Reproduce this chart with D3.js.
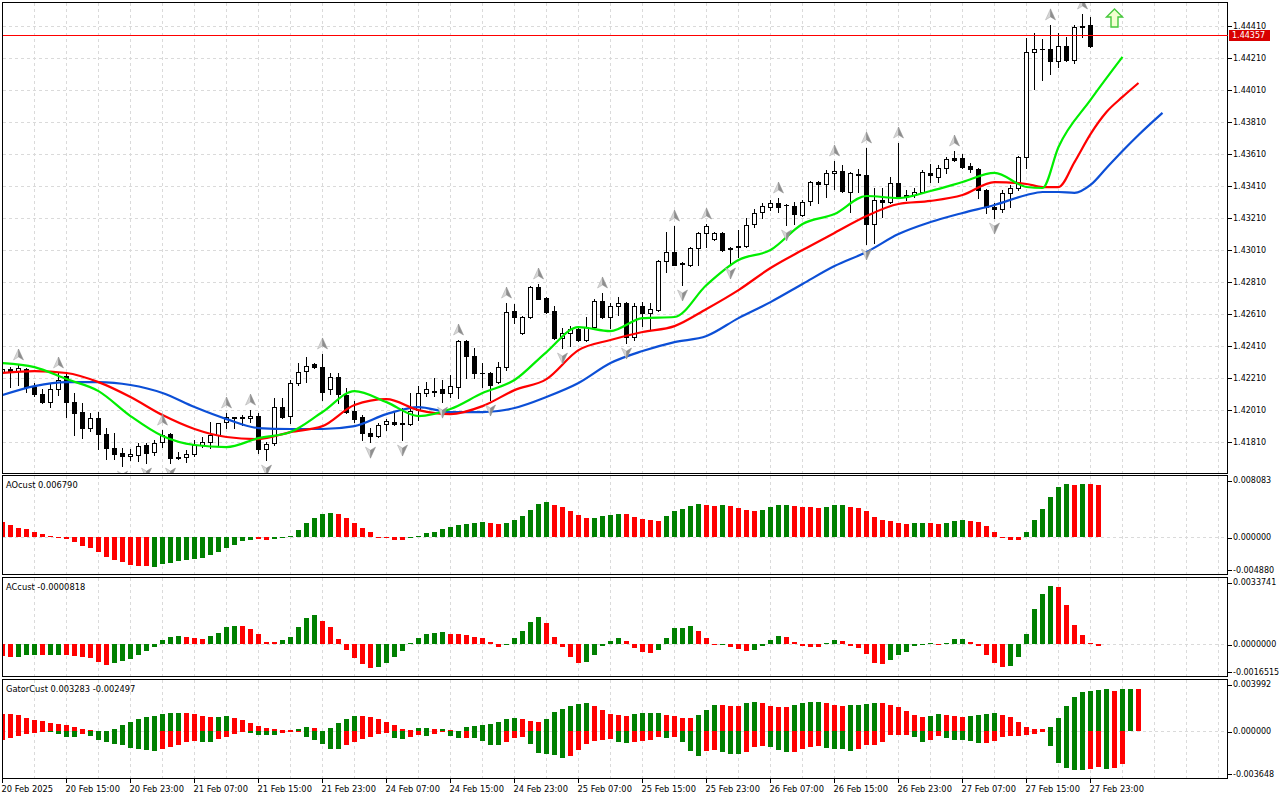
<!DOCTYPE html>
<html lang="en">
<head>
<meta charset="UTF-8">
<title>H1 chart - Alligator, AO, AC, Gator</title>
<script src="https://d3js.org/d3.v7.min.js"></script>
<style>
  body { margin: 0; background: #fff; }
  svg { display: block; }
  text { font-family: 'DejaVu Sans', sans-serif; font-size: 8px; fill: #000; }
  .time-label { font-size: 8.3px; }
  .panel-title { font-size: 8.3px; }
</style>
</head>
<body>
<div id="chart"></div>
<script>
  const timeLabels = ["20 Feb 2025", "20 Feb 15:00", "20 Feb 23:00", "21 Feb 07:00", "21 Feb 15:00", "21 Feb 23:00",
    "24 Feb 07:00", "24 Feb 15:00", "24 Feb 23:00", "25 Feb 07:00", "25 Feb 15:00", "25 Feb 23:00",
    "26 Feb 07:00", "26 Feb 15:00", "26 Feb 23:00", "27 Feb 07:00", "27 Feb 15:00", "27 Feb 23:00"];

  const priceTicks = [1.41810, 1.42010, 1.42210, 1.42410, 1.42610, 1.42810, 1.43010,
    1.43210, 1.43410, 1.43610, 1.43810, 1.44010, 1.44210, 1.44410];

  const lastPrice = 1.44357;

  const opens = [
    1.42248, 1.42267, 1.42254, 1.42267, 1.42154, 1.42110, 1.42060, 1.42142, 1.42223, 1.42060,
    1.41998, 1.41898, 1.41960, 1.41860, 1.41773, 1.41742, 1.41723, 1.41729, 1.41792, 1.41748,
    1.41810, 1.41860, 1.41717, 1.41717, 1.41735, 1.41792, 1.41810, 1.41854, 1.41935, 1.41960,
    1.41967, 1.41960, 1.41973, 1.41767, 1.41804, 1.42029, 1.41973, 1.42179, 1.42254, 1.42298,
    1.42279, 1.42142, 1.42217, 1.42104, 1.42004, 1.41967, 1.41867, 1.41848, 1.41923, 1.41935,
    1.41926, 1.41923, 1.42010, 1.42117, 1.42126, 1.42142, 1.42117, 1.42154, 1.42442, 1.42348,
    1.42239, 1.42242, 1.42185, 1.42279, 1.42629, 1.42492, 1.42592, 1.42779, 1.42710, 1.42629,
    1.42461, 1.42492, 1.42517, 1.42448, 1.42529, 1.42692, 1.42592, 1.42661, 1.42679, 1.42467,
    1.42661, 1.42617, 1.42636, 1.42942, 1.42998, 1.42929, 1.42917, 1.43023, 1.43117, 1.43079,
    1.43117, 1.43017, 1.43032, 1.43035, 1.43173, 1.43248, 1.43279, 1.43304, 1.43289, 1.43285,
    1.43229, 1.43317, 1.43435, 1.43423, 1.43492, 1.43504, 1.43373, 1.43485, 1.43479, 1.43173,
    1.43323, 1.43310, 1.43429, 1.43351, 1.43354, 1.43373, 1.43492, 1.43467, 1.43523, 1.43585,
    1.43585, 1.43535, 1.43517, 1.43385, 1.43279, 1.43267, 1.43367, 1.43398, 1.43592, 1.44248,
    1.44264, 1.44267, 1.44192, 1.44285, 1.44198, 1.44410, 1.44417, 1.44357];

  const highs = [
    1.42286, 1.42279, 1.42292, 1.42273, 1.42179, 1.42142, 1.42179, 1.42242, 1.42235, 1.42117,
    1.42054, 1.41992, 1.41998, 1.41898, 1.41867, 1.41773, 1.41767, 1.41804, 1.41804, 1.41823,
    1.41885, 1.41867, 1.41748, 1.41760, 1.41823, 1.41842, 1.41937, 1.41929, 1.41992, 1.41970,
    1.41979, 1.42010, 1.41992, 1.41810, 1.42085, 1.42085, 1.42198, 1.42304, 1.42342, 1.42304,
    1.42361, 1.42242, 1.42242, 1.42148, 1.42067, 1.41979, 1.41898, 1.41929, 1.41954, 1.41998,
    1.42023, 1.42117, 1.42161, 1.42185, 1.42210, 1.42198, 1.42229, 1.42448, 1.42448, 1.42398,
    1.42304, 1.42248, 1.42311, 1.42679, 1.42673, 1.42598, 1.42785, 1.42798, 1.42717, 1.42661,
    1.42523, 1.42536, 1.42523, 1.42592, 1.42704, 1.42742, 1.42679, 1.42717, 1.42686, 1.42679,
    1.42686, 1.42679, 1.42948, 1.43123, 1.43160, 1.42936, 1.43029, 1.43120, 1.43173, 1.43123,
    1.43123, 1.43029, 1.43135, 1.43210, 1.43267, 1.43304, 1.43323, 1.43335, 1.43298, 1.43310,
    1.43323, 1.43442, 1.43442, 1.43510, 1.43567, 1.43542, 1.43498, 1.43517, 1.43648, 1.43398,
    1.43398, 1.43467, 1.43679, 1.43385, 1.43398, 1.43510, 1.43548, 1.43542, 1.43592, 1.43629,
    1.43610, 1.43554, 1.43523, 1.43392, 1.43304, 1.43385, 1.43417, 1.43598, 1.44335, 1.44367,
    1.44329, 1.44417, 1.44367, 1.44342, 1.44417, 1.44485, 1.44467, 1.44357];

  const lows = [
    1.42210, 1.42154, 1.42167, 1.42123, 1.42098, 1.42054, 1.42029, 1.42104, 1.41967, 1.41854,
    1.41835, 1.41879, 1.41767, 1.41704, 1.41704, 1.41660, 1.41698, 1.41692, 1.41679, 1.41729,
    1.41779, 1.41679, 1.41704, 1.41685, 1.41723, 1.41779, 1.41773, 1.41792, 1.41898, 1.41898,
    1.41917, 1.41935, 1.41742, 1.41698, 1.41792, 1.41960, 1.41929, 1.42167, 1.42185, 1.42273,
    1.42073, 1.42110, 1.42054, 1.41992, 1.41935, 1.41823, 1.41810, 1.41842, 1.41885, 1.41917,
    1.41823, 1.41917, 1.41948, 1.42098, 1.42098, 1.42060, 1.42092, 1.42085, 1.42210, 1.42210,
    1.42154, 1.42073, 1.42179, 1.42260, 1.42554, 1.42486, 1.42586, 1.42704, 1.42617, 1.42454,
    1.42398, 1.42411, 1.42442, 1.42442, 1.42523, 1.42586, 1.42523, 1.42604, 1.42429, 1.42448,
    1.42536, 1.42517, 1.42629, 1.42873, 1.42917, 1.42792, 1.42911, 1.42917, 1.43029, 1.43073,
    1.43004, 1.42929, 1.42967, 1.43029, 1.43154, 1.43210, 1.43260, 1.43248, 1.43167, 1.43173,
    1.43223, 1.43292, 1.43304, 1.43342, 1.43392, 1.43373, 1.43248, 1.43373, 1.43048, 1.43054,
    1.43217, 1.43304, 1.43342, 1.43323, 1.43342, 1.43367, 1.43435, 1.43435, 1.43492, 1.43567,
    1.43523, 1.43498, 1.43335, 1.43242, 1.43210, 1.43248, 1.43279, 1.43385, 1.43523, 1.44017,
    1.44073, 1.44110, 1.44154, 1.44192, 1.44179, 1.44342, 1.44279, 1.44357];

  const closes = [
    1.42267, 1.42254, 1.42273, 1.42154, 1.42110, 1.42060, 1.42142, 1.42198, 1.42060, 1.41992,
    1.41898, 1.41960, 1.41860, 1.41773, 1.41735, 1.41723, 1.41735, 1.41785, 1.41742, 1.41804,
    1.41854, 1.41710, 1.41710, 1.41735, 1.41792, 1.41810, 1.41854, 1.41929, 1.41967, 1.41967,
    1.41960, 1.41973, 1.41767, 1.41798, 1.42029, 1.41967, 1.42179, 1.42248, 1.42286, 1.42279,
    1.42123, 1.42217, 1.42110, 1.41998, 1.41954, 1.41867, 1.41848, 1.41917, 1.41942, 1.41923,
    1.41929, 1.42004, 1.42117, 1.42142, 1.42129, 1.42117, 1.42161, 1.42442, 1.42348, 1.42242,
    1.42242, 1.42167, 1.42279, 1.42623, 1.42592, 1.42592, 1.42779, 1.42704, 1.42623, 1.42461,
    1.42492, 1.42517, 1.42448, 1.42529, 1.42692, 1.42592, 1.42661, 1.42679, 1.42467, 1.42661,
    1.42617, 1.42642, 1.42942, 1.42998, 1.42917, 1.42923, 1.43023, 1.43117, 1.43160, 1.43117,
    1.43010, 1.43023, 1.43035, 1.43167, 1.43242, 1.43285, 1.43304, 1.43279, 1.43292, 1.43235,
    1.43310, 1.43435, 1.43423, 1.43492, 1.43504, 1.43379, 1.43492, 1.43479, 1.43173, 1.43323,
    1.43310, 1.43429, 1.43342, 1.43354, 1.43373, 1.43498, 1.43479, 1.43523, 1.43579, 1.43573,
    1.43529, 1.43517, 1.43385, 1.43279, 1.43267, 1.43367, 1.43398, 1.43592, 1.44248, 1.44267,
    1.44267, 1.44192, 1.44285, 1.44198, 1.44404, 1.44404, 1.44285, 1.44357];

  const upFractals = [2, 7, 20, 28, 31, 40, 57, 63, 67, 75, 84, 88, 97, 104, 108, 112, 119, 131, 135];
  const downFractals = [15, 18, 21, 33, 46, 50, 55, 61, 70, 78, 85, 91, 98, 108, 124];

  // alligator lines, read every few bars (the shifted lines run past the last candle)
  const jawBars = [0, 4, 8, 12, 16, 20, 24, 28, 32, 36, 40, 44, 48, 52, 56, 60, 64, 68, 72, 76, 80, 84, 88, 92,
    96, 100, 104, 108, 112, 116, 120, 124, 128, 130, 132, 134, 136, 138, 140, 142, 145];
  const jawValues = [1.42104, 1.42160, 1.42185, 1.42185, 1.42167, 1.42117, 1.42029, 1.41954, 1.41898, 1.41892,
    1.41892, 1.41910, 1.41985, 1.42029, 1.41998, 1.41998, 1.42023, 1.42092, 1.42179, 1.42304,
    1.42379, 1.42435, 1.42473, 1.42585, 1.42685, 1.42798, 1.42910, 1.42998, 1.43110, 1.43185,
    1.43242, 1.43292, 1.43354, 1.43373, 1.43373, 1.43367, 1.43417, 1.43523, 1.43629, 1.43729, 1.43867];

  const teethBars = [0, 4, 8, 12, 16, 20, 24, 28, 32, 36, 40, 44, 48, 52, 56, 60, 64, 68, 72, 76, 80, 84, 88, 92,
    96, 100, 104, 108, 112, 116, 120, 124, 128, 130, 132, 134, 136, 138, 140, 142];
  const teethValues = [1.42242, 1.42254, 1.42242, 1.42185, 1.42092, 1.41979, 1.41892, 1.41842, 1.41829, 1.41873,
    1.41910, 1.42042, 1.42079, 1.42010, 1.41985, 1.42035, 1.42135, 1.42204, 1.42385, 1.42448,
    1.42498, 1.42535, 1.42642, 1.42760, 1.42898, 1.43010, 1.43117, 1.43223, 1.43298, 1.43317,
    1.43354, 1.43435, 1.43423, 1.43404, 1.43404, 1.43560, 1.43735, 1.43873, 1.43967, 1.44054];

  const lipsBars = [0, 4, 8, 12, 16, 20, 24, 28, 32, 36, 40, 44, 48, 52, 56, 60, 64, 68, 72, 76, 80, 84, 88, 92,
    96, 100, 104, 108, 112, 116, 120, 124, 128, 130, 132, 136, 140];
  const lipsValues = [1.42304, 1.42279, 1.42204, 1.42129, 1.41973, 1.41848, 1.41792, 1.41779, 1.41835, 1.41873,
    1.41998, 1.42129, 1.42060, 1.41973, 1.42017, 1.42117, 1.42198, 1.42373, 1.42529, 1.42504,
    1.42585, 1.42592, 1.42792, 1.42948, 1.43010, 1.43173, 1.43235, 1.43348, 1.43335, 1.43379,
    1.43435, 1.43492, 1.43404, 1.43398, 1.43654, 1.43948, 1.44217];

  const aoValues = [
    0.00198, 0.00154, 0.00123, 0.00102, 0.00075, 0.00036, 0.00013, 0.00004, -0.00022, -0.00066,
    -0.00109, -0.00145, -0.00198, -0.00264, -0.00294, -0.00330, -0.00365, -0.00383, -0.00383, -0.00386,
    -0.00352, -0.00339, -0.00317, -0.00299, -0.00286, -0.00277, -0.00233, -0.00198, -0.00145, -0.00096,
    -0.00053, -0.00030, -0.00022, -0.00030, -0.00022, -0.00009, 0.00022, 0.00096, 0.00189, 0.00255,
    0.00299, 0.00321, 0.00299, 0.00255, 0.00189, 0.00123, 0.00062, 0.00009, 0.00004, -0.00036,
    -0.00036, 0.00004, 0.00013, 0.00049, 0.00075, 0.00102, 0.00132, 0.00154, 0.00168, 0.00181,
    0.00194, 0.00181, 0.00168, 0.00181, 0.00224, 0.00273, 0.00356, 0.00431, 0.00458, 0.00418,
    0.00392, 0.00339, 0.00286, 0.00247, 0.00248, 0.00273, 0.00286, 0.00299, 0.00298, 0.00260,
    0.00233, 0.00220, 0.00207, 0.00273, 0.00339, 0.00365, 0.00405, 0.00431, 0.00418, 0.00405,
    0.00418, 0.00405, 0.00379, 0.00352, 0.00350, 0.00352, 0.00392, 0.00418, 0.00419, 0.00405,
    0.00392, 0.00390, 0.00379, 0.00392, 0.00418, 0.00419, 0.00392, 0.00379, 0.00339, 0.00260,
    0.00220, 0.00207, 0.00181, 0.00168, 0.00181, 0.00182, 0.00180, 0.00168, 0.00181, 0.00207,
    0.00220, 0.00207, 0.00194, 0.00141, 0.00062, 0.00009, -0.00036, -0.00037, 0.00062, 0.00220,
    0.00365, 0.00524, 0.00656, 0.00695, 0.00682, 0.00695, 0.00694, 0.00679];
  const aoColors = ("rrrrrrrrrr" + "rrrrrrrrrg" + "gggggggggg" + "ggrrgggggg" + "ggrrrrrrrr" +
    "rggggggggg" + "grrggggggr" + "rrrrggggrr" + "rrrgggggrr" + "grrrrggggr" +
    "rrrgggrrrr" + "rrrrggrrgg" + "grrrrrrrgg" + "ggggrgrr").split("");

  const acValues = [
    -0.000613, -0.000649, -0.000640, -0.000562, -0.000560, -0.000565, -0.000560, -0.000558, -0.000562, -0.000613,
    -0.000649, -0.000700, -0.000904, -0.001073, -0.000956, -0.000869, -0.000751, -0.000562, -0.000358, -0.000138,
    0.000204, 0.000373, 0.000409, 0.000342, 0.000322, 0.000256, 0.000424, 0.000577, 0.000884, 0.000935,
    0.000920, 0.000751, 0.000511, 0.000118, 0.000110, 0.000204, 0.000373, 0.000884, 0.001313, 0.001446,
    0.001191, 0.000884, 0.000256, -0.000307, -0.000731, -0.001037, -0.001211, -0.001191, -0.000956, -0.000649,
    -0.000342, 0.000036, 0.000291, 0.000511, 0.000562, 0.000629, 0.000511, 0.000505, 0.000460, 0.000358,
    0.000307, 0.000102, -0.000138, -0.000036, 0.000307, 0.000664, 0.001124, 0.001380, 0.001073, 0.000358,
    -0.000138, -0.000649, -0.000956, -0.000904, -0.000547, -0.000087, 0.000153, 0.000307, 0.000153, -0.000189,
    -0.000393, -0.000445, -0.000291, 0.000307, 0.000818, 0.000833, 0.000920, 0.000664, 0.000307, -0.000036,
    -0.000026, -0.000138, -0.000240, -0.000342, -0.000291, -0.000087, 0.000204, 0.000409, 0.000358, 0.000102,
    -0.000087, -0.000138, -0.000143, 0.000051, 0.000204, 0.000153, -0.000087, -0.000189, -0.000496, -0.000956,
    -0.001007, -0.000802, -0.000547, -0.000393, -0.000087, 0.000015, 0.000036, -0.000051, 0.000051, 0.000256,
    0.000266, 0.000102, -0.000102, -0.000562, -0.000986, -0.001160, -0.001124, -0.000649, 0.000511, 0.001789,
    0.002555, 0.002964, 0.002897, 0.001993, 0.000971, 0.000460, 0.000051, -0.0000818];
  const acColors = ("rrgggrggrr" + "rrrrgggggg" + "gggrrrgggg" + "rrrrrggggg" + "rrrrrrrggg" +
    "ggggggrrrr" + "rrrgggggrr" + "rrrgggggrr" + "rrgggggrrr" + "grrrggggrr" +
    "rrrggrrrrr" + "rggggggrgg" + "grrrrrgggg" + "ggrrrrrr").split("");

  const gatorUpper = [
    0.001330, 0.001325, 0.001253, 0.001054, 0.000869, 0.000792, 0.000669, 0.000592, 0.000484, 0.000331,
    0.000208, 0.000077, 0.000023, 0.000054, 0.000177, 0.000515, 0.000715, 0.000923, 0.001100, 0.001207,
    0.001361, 0.001407, 0.001423, 0.001400, 0.001307, 0.001177, 0.001100, 0.001107, 0.001207, 0.001054,
    0.000846, 0.000638, 0.000438, 0.000254, 0.000177, 0.000131, 0.000077, 0.000177, 0.000331, 0.000254,
    0.000054, 0.000254, 0.000638, 0.000946, 0.001177, 0.001169, 0.001100, 0.000923, 0.000715, 0.000461,
    0.000154, 0.000077, 0.000231, 0.000238, 0.000154, 0.000161, 0.000077, 0.000023, 0.000308, 0.000408,
    0.000484, 0.000561, 0.000692, 0.000923, 0.001000, 0.000923, 0.000769, 0.000692, 0.000923, 0.001461,
    0.001692, 0.001923, 0.002076, 0.002153, 0.001923, 0.001615, 0.001307, 0.001230, 0.001154, 0.001307,
    0.001384, 0.001388, 0.001392, 0.001230, 0.001154, 0.001000, 0.000992, 0.001230, 0.001615, 0.001999,
    0.001992, 0.001984, 0.001923, 0.002153, 0.002230, 0.002153, 0.001923, 0.001846, 0.001838, 0.001999,
    0.002153, 0.002230, 0.002238, 0.002153, 0.001999, 0.001923, 0.001999, 0.002007, 0.002076, 0.002153,
    0.002146, 0.001999, 0.001846, 0.001592, 0.001284, 0.001130, 0.001138, 0.001361, 0.001284, 0.001207,
    0.001130, 0.001207, 0.001284, 0.001361, 0.001369, 0.001284, 0.001077, 0.000746, 0.000361, 0.000208,
    0.000154, 0.000361, 0.001054, 0.001976, 0.002668, 0.003053, 0.003130, 0.003176, 0.003230, 0.003130,
    0.003284, 0.003291, 0.003283];
  const gatorUpperColors = ("rrrrrrrrrr" + "rrrggggggg" + "gggrrrrggr" + "rrrrrrrggr" + "rggggrrrrr" +
    "rrggrgrrgg" + "gggggrrrgg" + "ggggrrrrrg" + "gggrrrrggg" + "rrrggrrrrg" +
    "gggrrrgggg" + "rrrrrrggrr" + "rggggrrrrr" + "rggggggggr" + "ggr").split("");

  const gatorLower = [
    -0.000715, -0.000484, -0.000331, -0.000208, -0.000100, -0.000023, -0.000054, -0.000177, -0.000408, -0.000438,
    -0.000231, -0.000331, -0.000669, -0.000869, -0.000977, -0.001054, -0.001307, -0.001384, -0.001484, -0.001500,
    -0.001361, -0.001253, -0.001054, -0.000846, -0.000746, -0.000823, -0.000869, -0.000615, -0.000461, -0.000208,
    -0.000077, -0.000100, -0.000254, -0.000261, -0.000308, -0.000100, -0.000054, -0.000023, -0.000408, -0.000669,
    -0.001000, -0.001361, -0.001407, -0.001054, -0.000823, -0.000615, -0.000461, -0.000231, -0.000154, -0.000500,
    -0.000615, -0.000438, -0.000285, -0.000361, -0.000231, -0.000054, -0.000385, -0.000538, -0.000531, -0.000554,
    -0.000769, -0.001077, -0.001092, -0.000846, -0.000538, -0.000461, -0.001000, -0.001692, -0.001769, -0.001846,
    -0.002076, -0.001923, -0.001461, -0.001000, -0.000769, -0.000692, -0.000615, -0.000846, -0.000923, -0.000846,
    -0.000769, -0.000692, -0.000461, -0.000538, -0.000461, -0.000846, -0.001538, -0.001923, -0.001538, -0.001461,
    -0.001615, -0.001769, -0.001776, -0.001615, -0.001230, -0.001154, -0.001230, -0.001461, -0.001615, -0.001607,
    -0.001384, -0.001230, -0.001154, -0.001307, -0.001384, -0.001392, -0.001538, -0.001384, -0.001077, -0.001069,
    -0.000846, -0.000308, -0.000269, -0.000254, -0.000461, -0.000846, -0.000669, -0.000385, -0.000538, -0.000669,
    -0.000677, -0.000769, -0.000923, -0.000915, -0.000769, -0.000461, -0.000385, -0.000377, -0.000269, -0.000208,
    -0.000077, -0.001177, -0.002461, -0.002845, -0.002999, -0.003007, -0.002922, -0.002768, -0.002922, -0.002845,
    -0.002497];
  const gatorLowerColors = ("rrrrrrgggg" + "rggggggggg" + "rrrrrggrrr" + "rggggrrrgg" + "gggrrrrrrg" +
    "grrgrrggrg" + "gggrrrgggg" + "grrrrrrggr" + "rrrgrgggrr" + "gggrrrgggr" +
    "rrrggggrrr" + "rrrrggrrgg" + "gggrrrrrrr" + "rgggggrrgr" + "r").split("");

  const signalBar = 139, signalPrice = 1.44460;

  const width = 1280, height = 800;
  const plotLeft = 2.5, plotRight = 1227.5;
  const green = "#008000", red = "#ff0000", gridColor = "#dadada";

  const svg = d3.select("#chart").append("svg")
    .attr("width", width)
    .attr("height", height);

  const defs = svg.append("defs");

  const x = d3.scaleLinear().domain([0, 137]).range([2.5, 1098.5]);

  const mainPanel = { id: "main", top: 2.5, bottom: 473.5 };
  const yMain = d3.scaleLinear().domain([1.41614, 1.44557]).range([473.5, 2.5]);

  const subPanels = [
    { id: "ao", top: 475.5, bottom: 574.5, min: -0.004880, max: 0.008083, digits: 6, title: "AOcust 0.006790" },
    { id: "ac", top: 577.5, bottom: 676.5, min: -0.0016515, max: 0.0033741, digits: 7, title: "ACcust -0.0000818" },
    { id: "gator", top: 679.5, bottom: 778.5, min: -0.003648, max: 0.003992, digits: 6, title: "GatorCust 0.003283 -0.002497" }
  ];
  subPanels.forEach(p => {
    p.y = d3.scaleLinear().domain([p.min, p.max]).range([p.bottom, p.top]);
  });

  function makeClip(p) {
    defs.append("clipPath").attr("id", "clip-" + p.id)
      .append("rect")
      .attr("x", plotLeft + 0.5)
      .attr("y", p.top + 0.5)
      .attr("width", plotRight - plotLeft - 1)
      .attr("height", p.bottom - p.top - 1);
    return svg.append("g").attr("clip-path", `url(#clip-${p.id})`);
  }

  function verticalGrid(g, p) {
    g.append("g")
      .selectAll("line")
      .data(d3.range(4, 153, 4))
      .join("line")
      .attr("x1", d => x(d)).attr("x2", d => x(d))
      .attr("y1", p.top).attr("y2", p.bottom)
      .attr("stroke", gridColor)
      .attr("stroke-dasharray", "3,3")
      .attr("shape-rendering", "crispEdges");
  }

  function hLine(g, y, x1, x2, color, dash) {
    return g.append("line")
      .attr("x1", x1).attr("x2", x2)
      .attr("y1", y).attr("y2", y)
      .attr("stroke", color)
      .attr("stroke-dasharray", dash)
      .attr("shape-rendering", "crispEdges");
  }

  // ---------- main price panel ----------
  const main = makeClip(mainPanel);
  verticalGrid(main, mainPanel);
  priceTicks.forEach(t => hLine(main, Math.round(yMain(t)) + 0.5, plotLeft, plotRight, gridColor, "3,3"));

  const candleG = main.append("g").attr("shape-rendering", "crispEdges");
  opens.forEach((o, i) => {
    const c = closes[i];
    const cx = x(i);
    candleG.append("line")
      .attr("x1", cx).attr("x2", cx)
      .attr("y1", Math.round(yMain(highs[i])))
      .attr("y2", Math.round(yMain(lows[i])) + 1)
      .attr("stroke", "#000");
    const top = Math.round(yMain(Math.max(o, c)));
    const bot = Math.round(yMain(Math.min(o, c)));
    if (bot - top < 1) {
      hLine(candleG, top + 0.5, cx - 2.5, cx + 2.5, "#000", null);
    } else {
      candleG.append("rect")
        .attr("x", cx - 2).attr("y", top + 0.5)
        .attr("width", 4).attr("height", bot - top)
        .attr("fill", c > o ? "#fff" : "#000")
        .attr("stroke", "#000");
    }
  });

  const alligator = d3.line()
    .x(d => x(d[0]))
    .y(d => yMain(d[1]))
    .curve(d3.curveMonotoneX);

  [[jawBars, jawValues, "#0c4fd6"], [teethBars, teethValues, "#ff0000"], [lipsBars, lipsValues, "#00ee00"]]
    .forEach(([bars, vals, color]) => {
      main.append("path")
        .datum(bars.map((b, i) => [b, vals[i]]))
        .attr("fill", "none")
        .attr("stroke", color)
        .attr("stroke-width", 2.2)
        .attr("stroke-linejoin", "round")
        .attr("d", alligator);
    });

  // fractal arrows: a light and a dark half of a notched arrowhead
  function fractal(cx, cy, dir) {
    const s = dir;
    const g = main.append("g").attr("transform", `translate(${cx},${cy})`);
    g.append("path")
      .attr("d", `M0,${-6 * s} L0,${2 * s} L-5,${5 * s} Z`)
      .attr("fill", "#d6d6d6").attr("stroke", "#a8a8a8").attr("stroke-width", 0.5);
    g.append("path")
      .attr("d", `M0,${-6 * s} L5,${5 * s} L0,${2 * s} Z`)
      .attr("fill", "#8e8e8e").attr("stroke", "#8e8e8e").attr("stroke-width", 0.5);
  }
  upFractals.forEach(i => fractal(x(i), yMain(highs[i]) - 10, 1));
  downFractals.forEach(i => fractal(x(i), yMain(lows[i]) + 10, -1));

  // signal arrow
  const sig = main.append("g")
    .attr("transform", `translate(${x(signalBar)},${yMain(signalPrice)})`);
  sig.append("path")
    .attr("d", "M0,-9 L8,-1 L3.5,-1 L3.5,9 L-3.5,9 L-3.5,-1 L-8,-1 Z")
    .attr("fill", "#f3ffd0")
    .attr("stroke", "#46c83c")
    .attr("stroke-width", 1.4);

  // ---------- indicator panels ----------
  function histogram(g, p, values, colors) {
    const zero = Math.round(p.y(0));
    g.append("g")
      .attr("shape-rendering", "crispEdges")
      .selectAll("rect")
      .data(values)
      .join("rect")
      .attr("x", (d, i) => x(i) - 2.5)
      .attr("width", 5)
      .attr("y", d => Math.min(zero, Math.round(p.y(d))))
      .attr("height", d => Math.max(1, Math.abs(Math.round(p.y(d)) - zero)))
      .attr("fill", (d, i) => colors[i] === "g" ? green : red);
  }

  subPanels.forEach(p => {
    const g = makeClip(p);
    verticalGrid(g, p);
    hLine(g, Math.round(p.y(0)) + 0.5, plotLeft, plotRight, gridColor, "3,3");
    if (p.id === "ao") histogram(g, p, aoValues, aoColors);
    if (p.id === "ac") histogram(g, p, acValues, acColors);
    if (p.id === "gator") {
      histogram(g, p, gatorUpper, gatorUpperColors);
      histogram(g, p, gatorLower, gatorLowerColors);
    }
    svg.append("text")
      .attr("class", "panel-title")
      .attr("x", 6).attr("y", p.top + 12)
      .text(p.title);
  });

  // ---------- frames and axes ----------
  [mainPanel, ...subPanels].forEach(p => {
    svg.append("rect")
      .attr("x", plotLeft).attr("y", p.top)
      .attr("width", plotRight - plotLeft)
      .attr("height", p.bottom - p.top)
      .attr("fill", "none")
      .attr("stroke", "#000")
      .attr("shape-rendering", "crispEdges");
  });

  // current price line, drawn as a 1px filled strip
  const yLast = Math.round(yMain(lastPrice)) + 0.5;
  svg.append("rect")
    .attr("x", 3).attr("y", yLast - 0.5)
    .attr("width", plotRight - 3).attr("height", 1)
    .attr("fill", "#ff0000")
    .attr("shape-rendering", "crispEdges");

  const axis = svg.append("g");
  priceTicks.forEach(t => {
    const y = Math.round(yMain(t)) + 0.5;
    hLine(axis, y, plotRight, plotRight + 4, "#000", null);
    axis.append("text").attr("x", 1233).attr("y", y).attr("dy", "0.35em").text(t.toFixed(5));
  });

  axis.append("rect")
    .attr("x", 1229).attr("y", yLast - 5.5)
    .attr("width", 41).attr("height", 11)
    .attr("fill", "#d80000");
  axis.append("text")
    .attr("x", 1232).attr("y", yLast).attr("dy", "0.35em")
    .style("fill", "#fff")
    .text(lastPrice.toFixed(5));

  subPanels.forEach(p => {
    const marks = [
      [p.max, p.top + 5],
      [0, Math.round(p.y(0)) + 0.5],
      [p.min, p.bottom - 4.5]
    ];
    marks.forEach(([v, y]) => {
      hLine(axis, Math.round(y) + 0.5, plotRight, plotRight + 4, "#000", null);
      axis.append("text").attr("x", 1233).attr("y", y).attr("dy", "0.35em")
        .text(v.toFixed(p.digits));
    });
  });

  timeLabels.forEach((label, k) => {
    const tx = x(k * 8);
    svg.append("line")
      .attr("x1", tx).attr("x2", tx)
      .attr("y1", 778.5).attr("y2", 783)
      .attr("stroke", "#000")
      .attr("shape-rendering", "crispEdges");
    svg.append("text")
      .attr("class", "time-label")
      .attr("x", tx - 1).attr("y", 792)
      .text(label);
  });
</script>
</body>
</html>
